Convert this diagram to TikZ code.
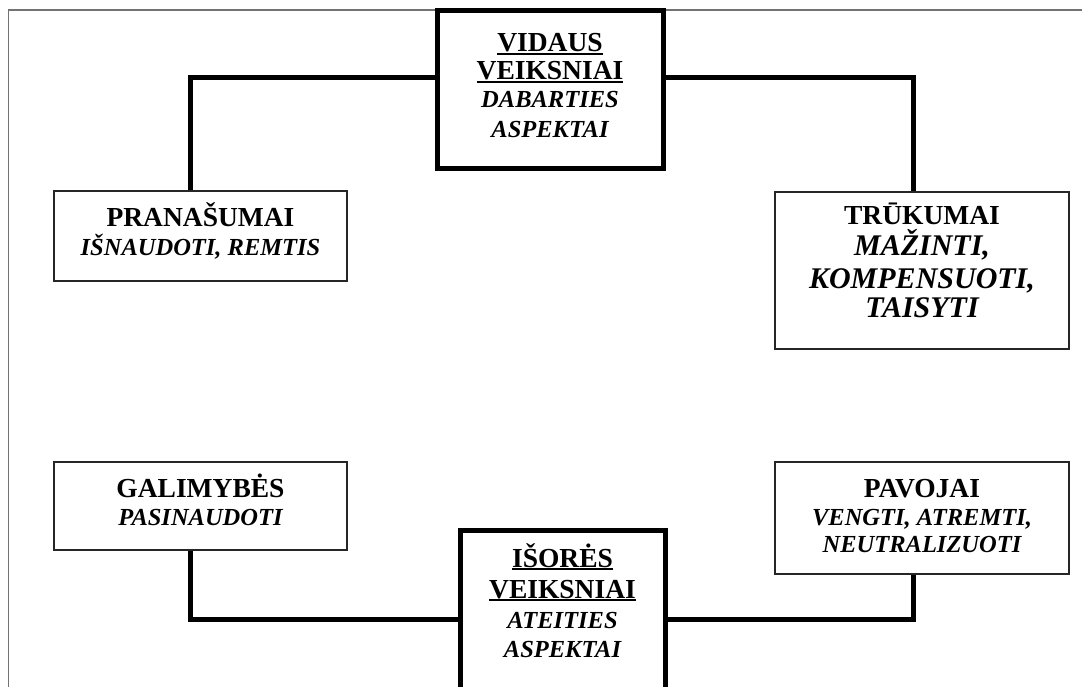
\documentclass[tikz,border=0pt]{standalone}
\usepackage{fontspec}
\setmainfont{Liberation Serif}
\newsavebox\ulsave
\newcommand\ulword[1]{\sbox\ulsave{#1}\rlap{\rule[-3pt]{\wd\ulsave}{1.8pt}}\usebox\ulsave}
\begin{document}
\begin{tikzpicture}[x=1pt,y=-1pt,
  frameline/.style={draw=black!55, line width=1.5pt},
  bigbox/.style={draw=black, line width=5pt, rectangle, inner sep=0pt},
  smallbox/.style={draw=black!85, line width=1.8pt, rectangle, inner sep=0pt},
  link/.style={draw=black, line width=5pt},
  hd/.style={anchor=base, inner sep=0pt, font=\fontsize{27.5}{30}\selectfont\bfseries},
  sub/.style={anchor=base, inner sep=0pt, font=\fontsize{24.5}{28}\selectfont\bfseries\itshape},
  subbig/.style={anchor=base, inner sep=0pt, font=\fontsize{30}{33}\selectfont\bfseries\itshape}]
\useasboundingbox (0,0) rectangle (1082,687);
\clip (0,0) rectangle (1082,687);

% page frame (left and top edges only)
\draw[frameline] (8.5,690) -- (8.5,10) -- (1085,10);

% boxes
\node[bigbox, minimum width=226pt, minimum height=158.5pt] (vid) at (550,89.75) {};
\node[smallbox, minimum width=293pt, minimum height=90pt] (pran) at (200.5,236) {};
\node[smallbox, minimum width=294pt, minimum height=157pt] (truk) at (922,270.5) {};
\node[smallbox, minimum width=293pt, minimum height=88pt] (gal) at (200.5,506) {};
\node[smallbox, minimum width=294pt, minimum height=112pt] (pav) at (922,518) {};
\node[bigbox, minimum width=205pt, minimum height=200pt] (isor) at (562.5,630.5) {};

% connector bends
\coordinate (tl) at (190,78);
\coordinate (tr) at (913,78);
\coordinate (bl) at (190,619);
\coordinate (br) at (913,619);

\draw[link] (pran.north -| tl) -- (tl) -- (tl -| vid.west);
\draw[link] (tr -| vid.east) -- (tr) -- (truk.north -| tr);
\draw[link] (gal.south -| bl) -- (bl) -- (bl -| isor.west);
\draw[link] (br -| isor.east) -- (br) -- (pav.south -| br);

% texts
\node[hd] (vid1) at (550,52) {\ulword{VIDAUS}};
\node[hd] (vid2) at (550,80) {\ulword{VEIKSNIAI}};
\node[sub] (vid3) at (550,108) {DABARTIES};
\node[sub] (vid4) at (550,137.5) {ASPEKTAI};

\node[hd] (pran1) at (200.5,227) {PRANAŠUMAI};
\node[sub] (pran2) at (200.5,256) {IŠNAUDOTI, REMTIS};

\node[hd] (truk1) at (922,225) {TRŪKUMAI};
\node[subbig] (truk2) at (922,255) {MAŽINTI,};
\node[subbig] (truk3) at (922,288) {KOMPENSUOTI,};
\node[subbig] (truk4) at (922,317) {TAISYTI};

\node[hd] (gal1) at (200.5,497) {GALIMYBĖS};
\node[sub] (gal2) at (200.5,525) {PASINAUDOTI};

\node[hd] (pav1) at (922,497) {PAVOJAI};
\node[sub] (pav2) at (922,525) {VENGTI, ATREMTI,};
\node[sub] (pav3) at (922,552) {NEUTRALIZUOTI};

\node[hd] (isor1) at (562.5,567) {\ulword{IŠORĖS}};
\node[hd] (isor2) at (562.5,598) {\ulword{VEIKSNIAI}};
\node[sub] (isor3) at (562.5,628) {ATEITIES};
\node[sub] (isor4) at (562.5,657) {ASPEKTAI};
\end{tikzpicture}
\end{document}
